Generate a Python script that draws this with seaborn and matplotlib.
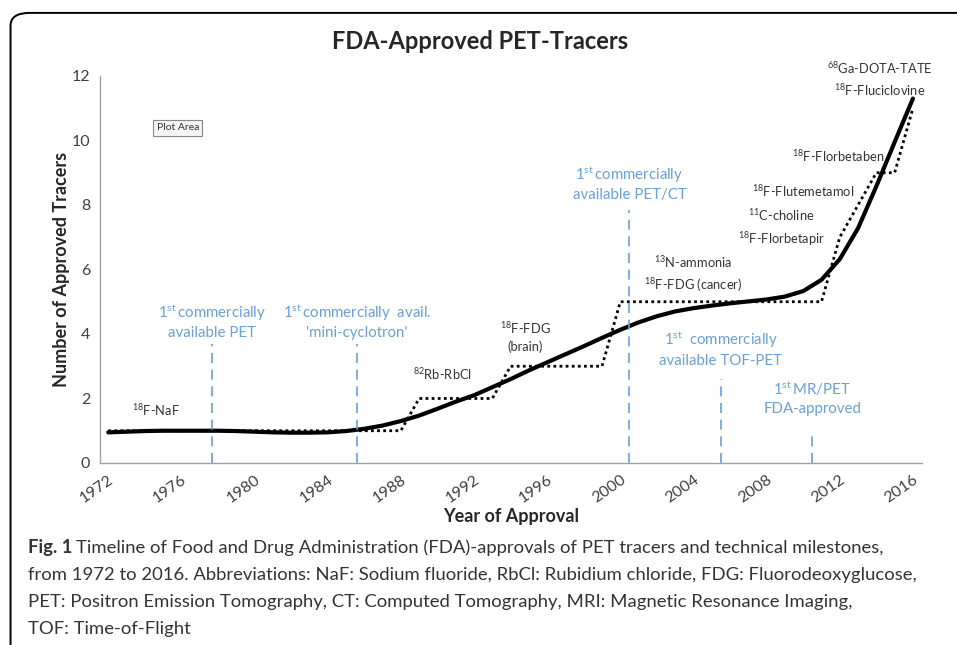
import matplotlib
matplotlib.use('Agg')
import matplotlib.pyplot as plt
import seaborn as sns
import pandas as pd
from matplotlib.patches import FancyBboxPatch

# --- duomenys, nuskaityti nuo paveikslo ---
years = list(range(1972, 2017))
# patvirtintų žymenų skaičius (taškinė laiptinė linija)
approved = [1] * 17 + [2] * 5 + [3] * 6 + [5] * 12 + [7, 8, 9, 9, 11]
# glotni tendencijos linija
trend = [0.95, 0.97, 0.99, 1.00, 1.00, 1.00, 1.00, 0.99, 0.97, 0.95,
         0.94, 0.94, 0.95, 0.99, 1.06, 1.16, 1.30, 1.47, 1.68, 1.90,
         2.10, 2.35, 2.60, 2.87, 3.12, 3.37, 3.62, 3.88, 4.13, 4.36,
         4.55, 4.70, 4.80, 4.88, 4.95, 5.01, 5.07, 5.16, 5.33, 5.68,
         6.32, 7.28, 8.58, 9.95, 11.30]

tracer_labels = [r'$^{18}$F-NaF', r'$^{82}$Rb-RbCl', '$^{18}$F-FDG\n(brain)',
                 '$^{13}$N-ammonia\n$^{18}$F-FDG (cancer)',
                 '$^{11}$C-choline\n$^{18}$F-Florbetapir',
                 r'$^{18}$F-Flutemetamol', r'$^{18}$F-Florbetaben',
                 '$^{68}$Ga-DOTA-TATE\n$^{18}$F-Fluciclovine']
tracer_x = [1974.6, 1990.3, 1994.8, 2004.0, 2008.8, 2010.0, 2011.9, 2014.2]
tracer_y = [1.64, 2.76, 3.92, 5.85, 7.30, 8.43, 9.52, 11.90]

milestone_labels = ['1$^{\\mathrm{st}}\\,$commercially\navailable PET',
                    "1$^{\\mathrm{st}}\\,$commercially  avail.\n'mini-cyclotron'",
                    '1$^{\\mathrm{st}}\\,$commercially\navailable PET/CT',
                    '1$^{\\mathrm{st}}$  commercially\navailable TOF-PET',
                    '1$^{\\mathrm{st}}\\,$MR/PET\nFDA-approved']
milestone_x = [1977.7, 1985.6, 2000.5, 2005.5, 2010.5]
milestone_top = [3.7, 3.7, 7.85, 2.6, 1.0]
milestone_text_y = [4.39, 4.39, 8.67, 3.55, 2.03]

df = pd.DataFrame({'Year': years, 'Approved': approved, 'Trend': trend})

sns.set_style('white')
plt.rcParams['font.family'] = ['Lato', 'DejaVu Sans']
plt.rcParams['mathtext.fontset'] = 'custom'
plt.rcParams['mathtext.rm'] = 'Lato'
plt.rcParams['mathtext.it'] = 'Lato:italic'
plt.rcParams['mathtext.bf'] = 'Lato:bold'

blue = '#6a9fd8'
grey_txt = '#333333'

fig = plt.figure(figsize=(9.57, 6.45), dpi=100)
ax = fig.add_axes([0.1045, 0.2822, 0.859, 0.600])

# rėmelis aplink grafiką (dešinė ir apačia nukirpti)
frame = FancyBboxPatch((0.011, -0.1), 1.2, 1.08, transform=fig.transFigure,
                       boxstyle='round,pad=0,rounding_size=0.02',
                       fill=False, edgecolor='black', linewidth=1.4, clip_on=False)
fig.patches.append(frame)

sns.lineplot(data=df, x='Year', y='Approved', ax=ax, color='black',
             linestyle=(0, (1, 1.2)), linewidth=2.0)
sns.lineplot(data=df, x='Year', y='Trend', ax=ax, color='black', linewidth=3.0)

# techniniai etapai – mėlynos brūkšninės linijos
for mx, mt, my, ml in zip(milestone_x, milestone_top, milestone_text_y, milestone_labels):
    ax.vlines(mx, 0, mt, colors=blue, linestyles=(0, (6, 4)), linewidth=1.2)
    ax.text(mx, my, ml, color=blue, fontsize=10.8, ha='center', va='center',
            linespacing=1.35)

for tl, tx, ty in zip(tracer_labels, tracer_x, tracer_y):
    ax.text(tx, ty, tl, color=grey_txt, fontsize=9.3, ha='center', va='center',
            linespacing=1.45, clip_on=False)

ax.text(1975.8, 10.39, 'Plot Area', fontsize=7.5, color='#333333', ha='center', va='center',
        bbox=dict(boxstyle='square,pad=0.3', facecolor='#f4f4f4', edgecolor='#888888', linewidth=0.8))

ax.set_xlim(1971.55, 2016.5)
ax.set_ylim(0, 12)
ax.set_xticks(range(1972, 2017, 4))
ax.set_yticks(range(0, 13, 2))
ax.tick_params(axis='both', length=0, labelsize=11.5, labelcolor='#404040', pad=7)
plt.setp(ax.get_xticklabels(), rotation=35, ha='right', rotation_mode='anchor')
for side in ['top', 'right']:
    ax.spines[side].set_visible(False)
for side in ['left', 'bottom']:
    ax.spines[side].set_color('#a0a0a0')
    ax.spines[side].set_linewidth(1.0)

ax.set_xlabel('Year of Approval', fontsize=13, fontweight='bold', labelpad=2)
ax.set_ylabel('Number of Approved Tracers', fontsize=13, fontweight='bold', labelpad=1)
fig.text(0.502, 0.935, 'FDA-Approved PET-Tracers', fontsize=17, fontweight='bold',
         ha='center', va='center')

# paveikslo antraštė
caption = ['Timeline of Food and Drug Administration (FDA)-approvals of PET tracers and technical milestones,',
           'from 1972 to 2016. Abbreviations: NaF: Sodium fluoride, RbCl: Rubidium chloride, FDG: Fluorodeoxyglucose,',
           'PET: Positron Emission Tomography, CT: Computed Tomography, MRI: Magnetic Resonance Imaging,',
           'TOF: Time-of-Flight']
cap_y = [548, 575, 602, 629]
fig.text(28 / 957, 1 - cap_y[0] / 645, 'Fig. 1', fontsize=13.3, fontweight='bold',
         color=grey_txt, va='center', ha='left')
fig.text(76 / 957, 1 - cap_y[0] / 645, caption[0], fontsize=13.3, color=grey_txt,
         va='center', ha='left')
for line, cy in zip(caption[1:], cap_y[1:]):
    fig.text(28 / 957, 1 - cy / 645, line, fontsize=13.3, color=grey_txt,
             va='center', ha='left')

fig.savefig('out.png', dpi=100)
